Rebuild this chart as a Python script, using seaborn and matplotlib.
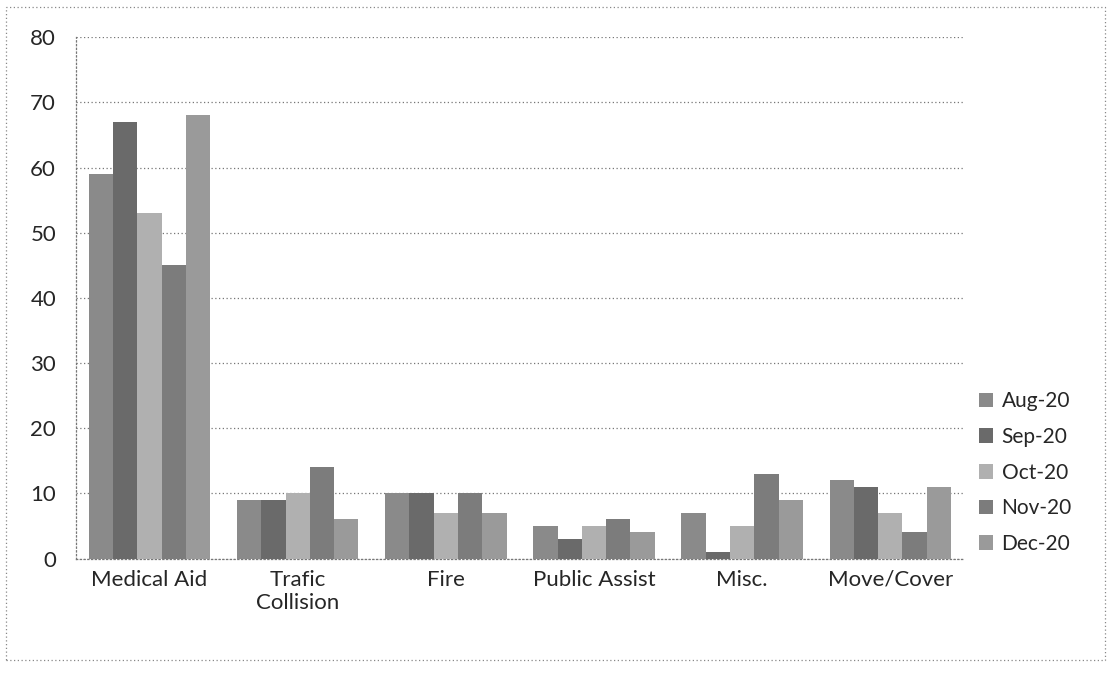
import matplotlib
matplotlib.use("Agg")
import matplotlib.pyplot as plt
import pandas as pd
import seaborn as sns

categories = ["Medical Aid", "Trafic\nCollision", "Fire", "Public Assist", "Misc.", "Move/Cover"]
months = ["Aug-20", "Sep-20", "Oct-20", "Nov-20", "Dec-20"]
aug_20 = [59, 9, 10, 5, 7, 12]
sep_20 = [67, 9, 10, 3, 1, 11]
oct_20 = [53, 10, 7, 5, 5, 7]
nov_20 = [45, 14, 10, 6, 13, 4]
dec_20 = [68, 6, 7, 4, 9, 11]
y_ticks = [0, 10, 20, 30, 40, 50, 60, 70, 80]

month_colors = ["#8a8a8a", "#6a6a6a", "#b0b0b0", "#7c7c7c", "#9a9a9a"]


def main():
    series = [aug_20, sep_20, oct_20, nov_20, dec_20]
    rows = []
    for month, vals in zip(months, series):
        for cat, v in zip(categories, vals):
            rows.append({"category": cat, "month": month, "count": v})
    df = pd.DataFrame(rows)

    sns.set_style("white")
    plt.rcParams["font.family"] = ["Lato", "DejaVu Sans"]

    fig = plt.figure(figsize=(11.11, 6.77), dpi=100)
    ax = fig.add_axes([0.068, 0.175, 0.80, 0.77])

    sns.barplot(data=df, x="category", y="count", hue="month",
                palette=month_colors, width=0.82, saturation=1,
                edgecolor="none", linewidth=0, ax=ax, zorder=3)

    ax.set_ylim(0, 80)
    ax.set_yticks(y_ticks)
    ax.set_yticklabels([str(t) for t in y_ticks], fontsize=16)
    ax.tick_params(axis="x", labelsize=16, length=0, pad=8)
    ax.tick_params(axis="y", length=0, pad=14)
    ax.set_xlabel("")
    ax.set_ylabel("")

    ax.yaxis.grid(True, linestyle=(0, (1, 2)), color="#777777", linewidth=0.9, zorder=0)
    for side in ["top", "right"]:
        ax.spines[side].set_visible(False)
    for side in ["left", "bottom"]:
        ax.spines[side].set_linestyle((0, (1, 2)))
        ax.spines[side].set_color("#777777")
        ax.spines[side].set_linewidth(0.9)

    ax.legend(loc="center left", bbox_to_anchor=(0.995, 0.165), frameon=False,
              fontsize=15, labelspacing=0.75, handlelength=0.7,
              handleheight=0.7, handletextpad=0.4)

    border = plt.Rectangle((0.005, 0.025), 0.99, 0.965, transform=fig.transFigure,
                           fill=False, linestyle=(0, (1, 2)), edgecolor="#888888",
                           linewidth=0.9)
    fig.patches.append(border)

    fig.savefig("out.png", dpi=100)


if __name__ == "__main__":
    main()
